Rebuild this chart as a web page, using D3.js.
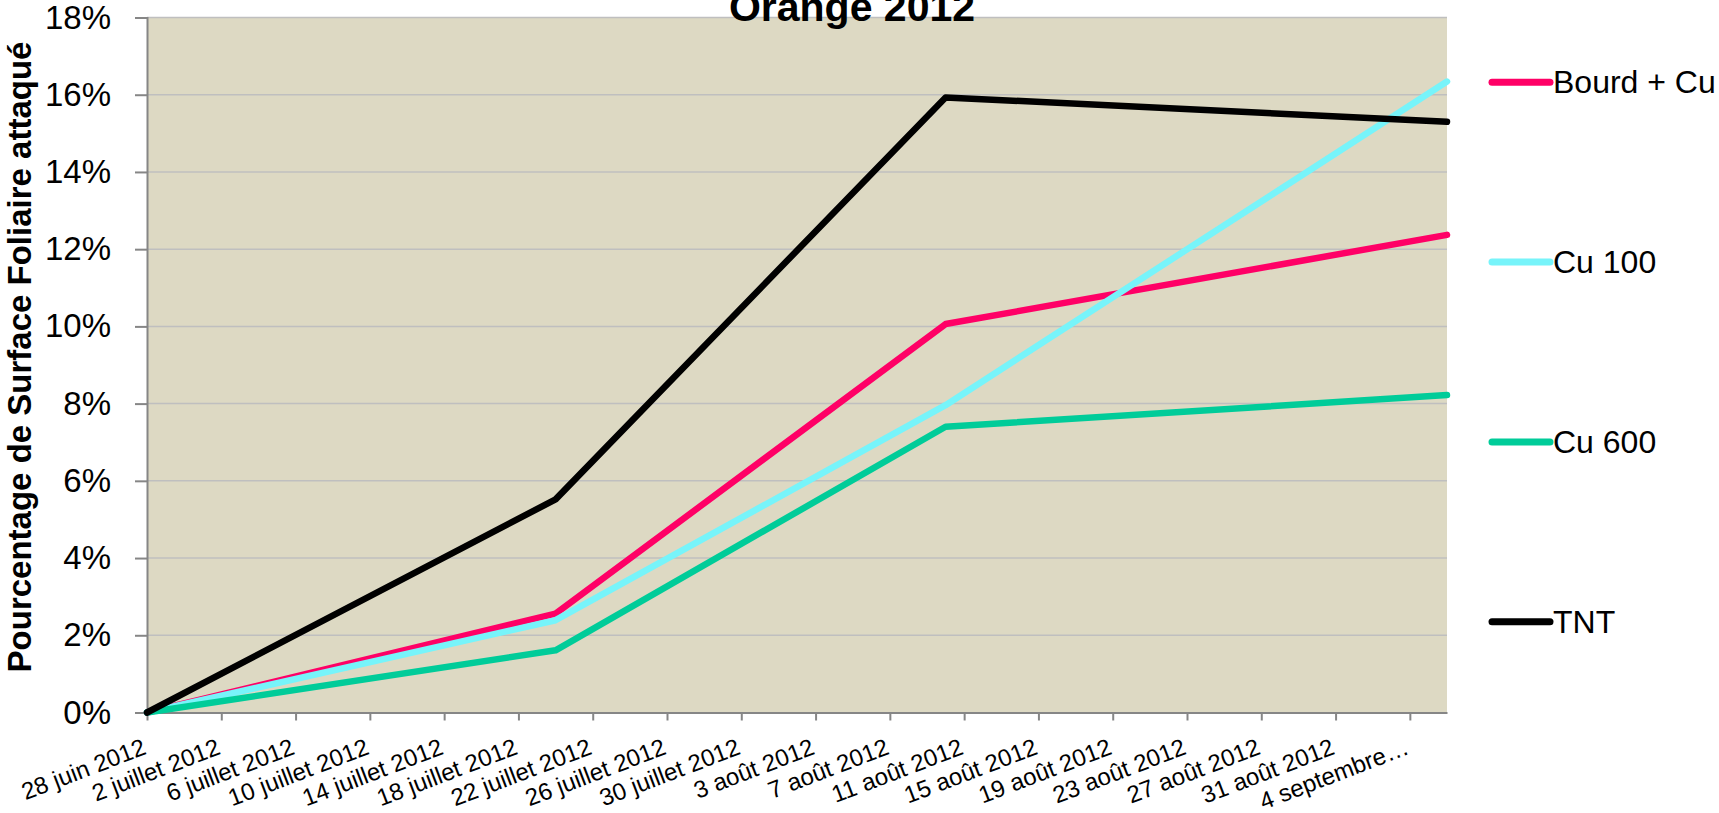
<!DOCTYPE html>
<html>
<head>
<meta charset="utf-8">
<script src="https://cdn.jsdelivr.net/npm/d3@7"></script>
<style>
  body { margin: 0; background: #fff; }
  #chart { width: 1719px; height: 813px; }
  text { font-family: "Liberation Sans", Arial, sans-serif; fill: #000; }
</style>
</head>
<body>
<div id="chart"></div>
<script>

// Dates of the observations
var dates = ['2012-06-28', '2012-07-20', '2012-08-10', '2012-09-06'];

// Percentage of leaf surface attacked, per treatment
var bourdCu = [0, 2.56, 10.06, 12.37];
var cu100 = [0, 2.39, 7.96, 16.34];
var cu600 = [0, 1.61, 7.40, 8.22];
var tnt = [0, 5.52, 15.93, 15.30];

var seriesNames = ['Bourd + Cu', 'Cu 100', 'Cu 600', 'TNT'];
var seriesColors = ['#ff0066', '#77f4fa', '#00cc99', '#000000'];

// Axis ticks
var tickDates = ['2012-06-28', '2012-07-02', '2012-07-06', '2012-07-10', '2012-07-14',
  '2012-07-18', '2012-07-22', '2012-07-26', '2012-07-30', '2012-08-03', '2012-08-07',
  '2012-08-11', '2012-08-15', '2012-08-19', '2012-08-23', '2012-08-27', '2012-08-31',
  '2012-09-04'];
var tickLabels = ['28 juin 2012', '2 juillet 2012', '6 juillet 2012', '10 juillet 2012',
  '14 juillet 2012', '18 juillet 2012', '22 juillet 2012', '26 juillet 2012',
  '30 juillet 2012', '3 août 2012', '7 août 2012', '11 août 2012', '15 août 2012',
  '19 août 2012', '23 août 2012', '27 août 2012', '31 août 2012', '4 septembre…'];
var yTicks = [0, 2, 4, 6, 8, 10, 12, 14, 16, 18];

var OrangeChart = function () {

  function draw() {

    var parse = d3.utcParse('%Y-%m-%d');
    var series = [bourdCu, cu100, cu600, tnt].map(function (values, i) {
      return {
        name: seriesNames[i],
        color: seriesColors[i],
        points: values.map(function (v, j) { return { date: parse(dates[j]), value: v }; })
      };
    });

    var margin = { top: 17.5, right: 272, bottom: 100.5, left: 147 };
    var width = 1719, height = 813;

    var x = d3.scaleUtc()
      .domain([parse('2012-06-28'), parse('2012-09-06')])
      .range([margin.left, width - margin.right]);

    var y = d3.scaleLinear()
      .domain([0, 18])
      .range([height - margin.bottom, margin.top]);

    var svg = d3.select('#chart').append('svg')
      .attr('width', width)
      .attr('height', height);

    // Plot background
    svg.append('rect')
      .attr('x', x.range()[0])
      .attr('y', y(18))
      .attr('width', x.range()[1] - x.range()[0])
      .attr('height', y(0) - y(18))
      .attr('fill', '#ddd9c3');

    // Grid lines
    svg.append('g')
      .selectAll('line')
      .data(yTicks.slice(1))
      .enter()
    .append('line')
      .attr('x1', x.range()[0])
      .attr('x2', x.range()[1])
      .attr('y1', function (d) { return y(d); })
      .attr('y2', function (d) { return y(d); })
      .attr('stroke', '#bfbfbf')
      .attr('stroke-width', 1.5);

    // Y axis
    var yAxis = svg.append('g')
      .attr('transform', 'translate(' + x.range()[0] + ',0)')
      .call(d3.axisLeft(y)
        .tickValues(yTicks)
        .tickSize(12)
        .tickPadding(24)
        .tickFormat(function (d) { return d + '%'; }));

    yAxis.select('.domain').attr('stroke', '#868686').attr('stroke-width', 2);
    yAxis.selectAll('.tick line').attr('stroke', '#868686').attr('stroke-width', 2);
    yAxis.selectAll('.tick text')
      .attr('font-size', 33)
      .attr('font-family', '"Liberation Sans", Arial, sans-serif')
      .attr('fill', '#000');

    // X axis
    var xAxis = svg.append('g')
      .attr('transform', 'translate(0,' + y(0) + ')')
      .call(d3.axisBottom(x)
        .tickValues(tickDates.map(parse))
        .tickSize(8)
        .tickSizeOuter(0)
        .tickFormat(function (d, i) { return tickLabels[i]; }));

    xAxis.select('.domain').attr('stroke', '#868686').attr('stroke-width', 2);
    xAxis.selectAll('.tick line').attr('stroke', '#868686').attr('stroke-width', 2);
    xAxis.selectAll('.tick text')
      .attr('font-size', 24)
      .attr('font-family', '"Liberation Sans", Arial, sans-serif')
      .attr('fill', '#000')
      .attr('text-anchor', 'end')
      .attr('dy', null)
      .attr('y', null)
      .attr('transform', 'translate(0,41) rotate(-21)');

    // Lines
    var line = d3.line()
      .x(function (d) { return x(d.date); })
      .y(function (d) { return y(d.value); });

    svg.append('g')
      .selectAll('path')
      .data(series)
      .enter()
    .append('path')
      .attr('d', function (d) { return line(d.points); })
      .attr('fill', 'none')
      .attr('stroke', function (d) { return d.color; })
      .attr('stroke-width', 6.5)
      .attr('stroke-linejoin', 'round')
      .attr('stroke-linecap', 'round');

    // Legend
    var legend = svg.append('g')
      .selectAll('g')
      .data(series)
      .enter()
    .append('g')
      .attr('transform', function (d, i) { return 'translate(1492,' + (82.3 + i * 179.8) + ')'; });

    legend.append('line')
      .attr('x1', 0)
      .attr('x2', 58)
      .attr('stroke', function (d) { return d.color; })
      .attr('stroke-width', 7)
      .attr('stroke-linecap', 'round');

    legend.append('text')
      .attr('x', 61)
      .attr('y', 11)
      .attr('font-size', 32)
      .text(function (d) { return d.name; });

    // Y axis title
    svg.append('text')
      .attr('transform', 'translate(31,357) rotate(-90)')
      .attr('text-anchor', 'middle')
      .attr('font-size', 33)
      .attr('font-weight', 'bold')
      .text('Pourcentage de Surface Foliaire attaqué');

    // Chart title
    svg.append('text')
      .attr('x', 852)
      .attr('y', 21)
      .attr('text-anchor', 'middle')
      .attr('font-size', 41)
      .attr('font-weight', 'bold')
      .text('Orange 2012');
  }

  return {
    draw: draw
  };
};

OrangeChart().draw();

</script>
</body>
</html>
